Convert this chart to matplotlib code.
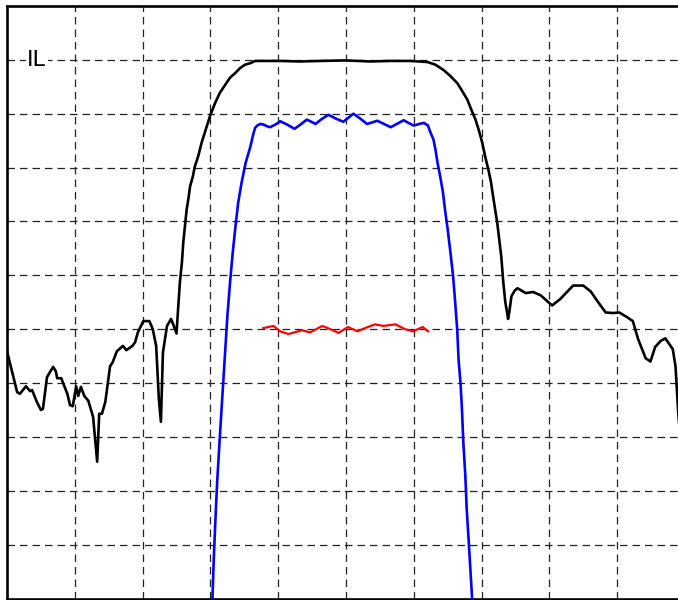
import matplotlib
matplotlib.use("Agg")
import matplotlib.pyplot as plt

# frequency axis in grid divisions (0..10), level in dB (10 dB / div)
black_x = [0.00, 0.15, 0.19, 0.28, 0.34, 0.37, 0.44, 0.50, 0.53, 0.59, 0.68, 0.72, 0.74, 0.80,
           0.89, 0.93, 0.97, 1.02, 1.05, 1.09, 1.14, 1.20, 1.27, 1.33, 1.36, 1.40, 1.45, 1.52,
           1.56, 1.62, 1.71, 1.76, 1.85, 1.89, 1.93, 2.01, 2.10, 2.15, 2.20, 2.24, 2.27, 2.30,
           2.36, 2.42, 2.46, 2.50, 2.52, 2.55, 2.58, 2.60, 2.63, 2.65, 2.68, 2.70, 2.74, 2.77,
           2.82, 2.87, 2.93, 3.00, 3.07, 3.14, 3.22, 3.29, 3.37, 3.44, 3.51, 3.59, 3.66,
           4.03, 4.32, 4.62, 5.00, 5.36, 5.65, 5.95, 6.20, 6.32, 6.44, 6.54, 6.64, 6.71, 6.79,
           6.85, 6.91, 6.96, 7.01, 7.05, 7.10, 7.14, 7.17, 7.20, 7.23, 7.26, 7.29, 7.32, 7.35,
           7.38, 7.39, 7.41, 7.44, 7.49, 7.53, 7.65, 7.76, 7.87,
           8.04, 8.16, 8.35, 8.50, 8.61, 8.72, 8.83, 8.94, 9.03, 9.15, 9.23, 9.31, 9.42, 9.49,
           9.56, 9.64, 9.71, 9.82, 9.86, 9.90, 9.93]
black_y = [-54.1, -61.7, -62.0, -60.6, -61.5, -61.3, -63.5, -65.0, -64.8, -58.9, -57.0, -57.8, -59.1, -59.1,
           -62.0, -64.1, -64.3, -60.6, -62.4, -60.7, -62.4, -63.3, -66.3, -74.6, -65.7, -65.7, -63.5, -56.9,
           -56.1, -54.1, -53.1, -53.9, -53.1, -52.4, -50.6, -48.5, -48.5, -50.0, -53.1, -63.0, -67.2, -54.3,
           -49.4, -48.1, -49.4, -50.8, -46.9, -41.3, -37.6, -33.9, -30.2, -27.8, -25.4, -23.5, -21.7, -19.8,
           -17.9, -15.4, -13.0, -10.2, -8.0, -6.1, -4.6, -3.3, -2.4, -1.5, -0.9, -0.6, -0.2,
           -0.2, -0.3, -0.2, -0.1, -0.3, -0.2, -0.2, -0.4, -0.9, -1.9, -3.0, -4.3, -5.7, -7.4,
           -9.3, -11.1, -13.1, -15.4, -17.8, -20.4, -22.8, -25.4, -27.8, -30.2, -33.3, -36.5, -41.3, -45.0,
           -47.2, -48.1, -46.7, -43.9, -42.8, -42.4, -43.3, -43.1, -43.7,
           -45.6, -44.4, -41.9, -41.9, -43.0, -45.0, -46.9, -47.0, -46.9, -47.8, -48.5, -51.9, -55.4, -56.0,
           -53.3, -52.2, -51.7, -53.7, -56.9, -65.4, -70.4]

blue_x = [3.03, 3.05, 3.07, 3.10, 3.14, 3.18, 3.22, 3.25, 3.29, 3.33, 3.37, 3.41, 3.46, 3.52,
          3.59, 3.63, 3.66, 3.70, 3.74, 3.78, 3.83, 3.88, 3.96, 4.03, 4.13, 4.24, 4.33, 4.42,
          4.49, 4.55, 4.64, 4.74, 4.85, 4.96, 5.03, 5.11, 5.21, 5.31, 5.39, 5.46, 5.56, 5.66,
          5.75, 5.85, 5.92, 6.00, 6.08, 6.15, 6.21, 6.24, 6.29, 6.32, 6.35, 6.39, 6.43, 6.46,
          6.50, 6.54, 6.58, 6.61, 6.64, 6.66, 6.69, 6.71, 6.73, 6.76, 6.78, 6.81, 6.86]
blue_y = [-100.0, -92.6, -86.5, -78.3, -69.8, -61.7, -53.7, -47.6, -41.3, -35.7, -30.9, -26.5, -22.8, -19.1,
          -16.1, -13.9, -12.6, -12.1, -11.9, -12.0, -12.3, -12.5, -12.0, -11.4, -12.0, -12.8, -12.0, -11.1,
          -11.5, -11.9, -11.0, -10.2, -10.9, -11.5, -10.8, -10.0, -10.9, -11.9, -11.6, -11.3, -11.9, -12.5,
          -11.9, -11.2, -11.7, -12.2, -11.9, -11.7, -12.2, -13.3, -14.8, -16.7, -19.1, -21.7, -24.6, -27.8,
          -31.5, -35.7, -40.2, -45.0, -50.0, -55.6, -60.2, -64.8, -70.9, -77.2, -83.3, -89.4, -100.0]

red_x = [3.78, 3.93, 4.03, 4.15, 4.35, 4.47, 4.65, 4.77, 4.89, 5.03, 5.17, 5.28, 5.43, 5.55,
         5.73, 5.87, 5.99, 6.13, 6.21]
red_y = [-49.8, -49.4, -50.4, -50.9, -50.2, -50.6, -49.4, -50.0, -50.7, -49.6, -50.4, -49.8, -49.1, -49.4,
         -49.1, -50.0, -50.4, -49.6, -50.4]

fig = plt.figure(figsize=(6.78, 6.0), dpi=100)
ax = fig.add_axes([7 / 678, 1.5 / 600, 1.0, 1 - 7.5 / 600])

ax.plot(black_x, black_y, color='black', lw=1.9, zorder=3)
ax.plot(blue_x, blue_y, color='#0000ff', lw=1.9, zorder=3)
ax.plot(red_x, red_y, color='#ff0000', lw=1.6, zorder=3)

ax.set_xlim(0, 10)
ax.set_ylim(-100, 10)
ax.set_xticks(range(1, 10))
ax.set_yticks(range(-90, 10, 10))
ax.tick_params(length=0, labelbottom=False, labelleft=False)
ax.grid(True, color='#222222', lw=0.9, linestyle=(0, (6, 4)))
for s in ax.spines.values():
    s.set_linewidth(1.9)

ax.text(0.30, 0, 'IL', fontsize=16, ha='left', va='center', zorder=4,
        bbox=dict(facecolor='white', edgecolor='none', pad=1))

fig.savefig('out.png', dpi=100)
